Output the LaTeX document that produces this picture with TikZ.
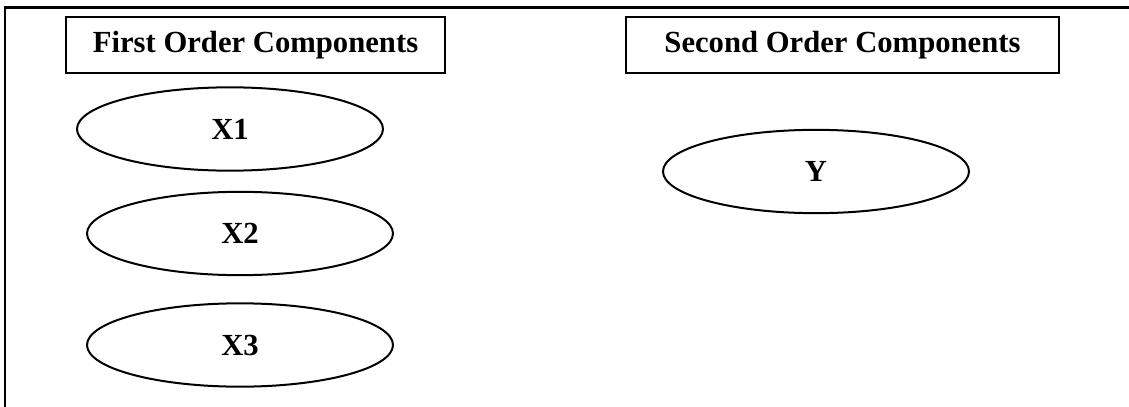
\documentclass[tikz,border=0pt]{standalone}
\usepackage{fontspec}
\setmainfont{Liberation Serif}
\usetikzlibrary{shapes.geometric}
\tikzset{
  heading/.style={draw, line width=1.4pt, rectangle, inner sep=0pt,
    minimum height=42pt, font=\fontsize{23}{27}\selectfont\bfseries},
  comp/.style={draw, line width=1.5pt, ellipse, inner sep=0pt,
    minimum width=229.5pt, minimum height=62.5pt,
    font=\fontsize{23}{27}\selectfont\bfseries},
}
\begin{document}
\begin{tikzpicture}[x=0.75pt, y=-0.75pt]
  \useasboundingbox (0,0) rectangle (1129,407);
  % open frame: top and left edges
  \draw[line width=2pt] (5,407) -- (5,7.5) -- (1129,7.5);
  % column headings
  \node[heading, minimum width=284.25pt] (first) at (255.5,45) {First Order Components};
  \node[heading, minimum width=324.75pt] (second) at (842.5,45) {Second Order Components};
  % components
  \node[comp] (x1) at (230,129) {X1};
  \node[comp] (x2) at (240,233.5) {X2};
  \node[comp] (x3) at (240,345) {X3};
  \node[comp] (y) at (816,171.5) {Y};
\end{tikzpicture}
\end{document}
